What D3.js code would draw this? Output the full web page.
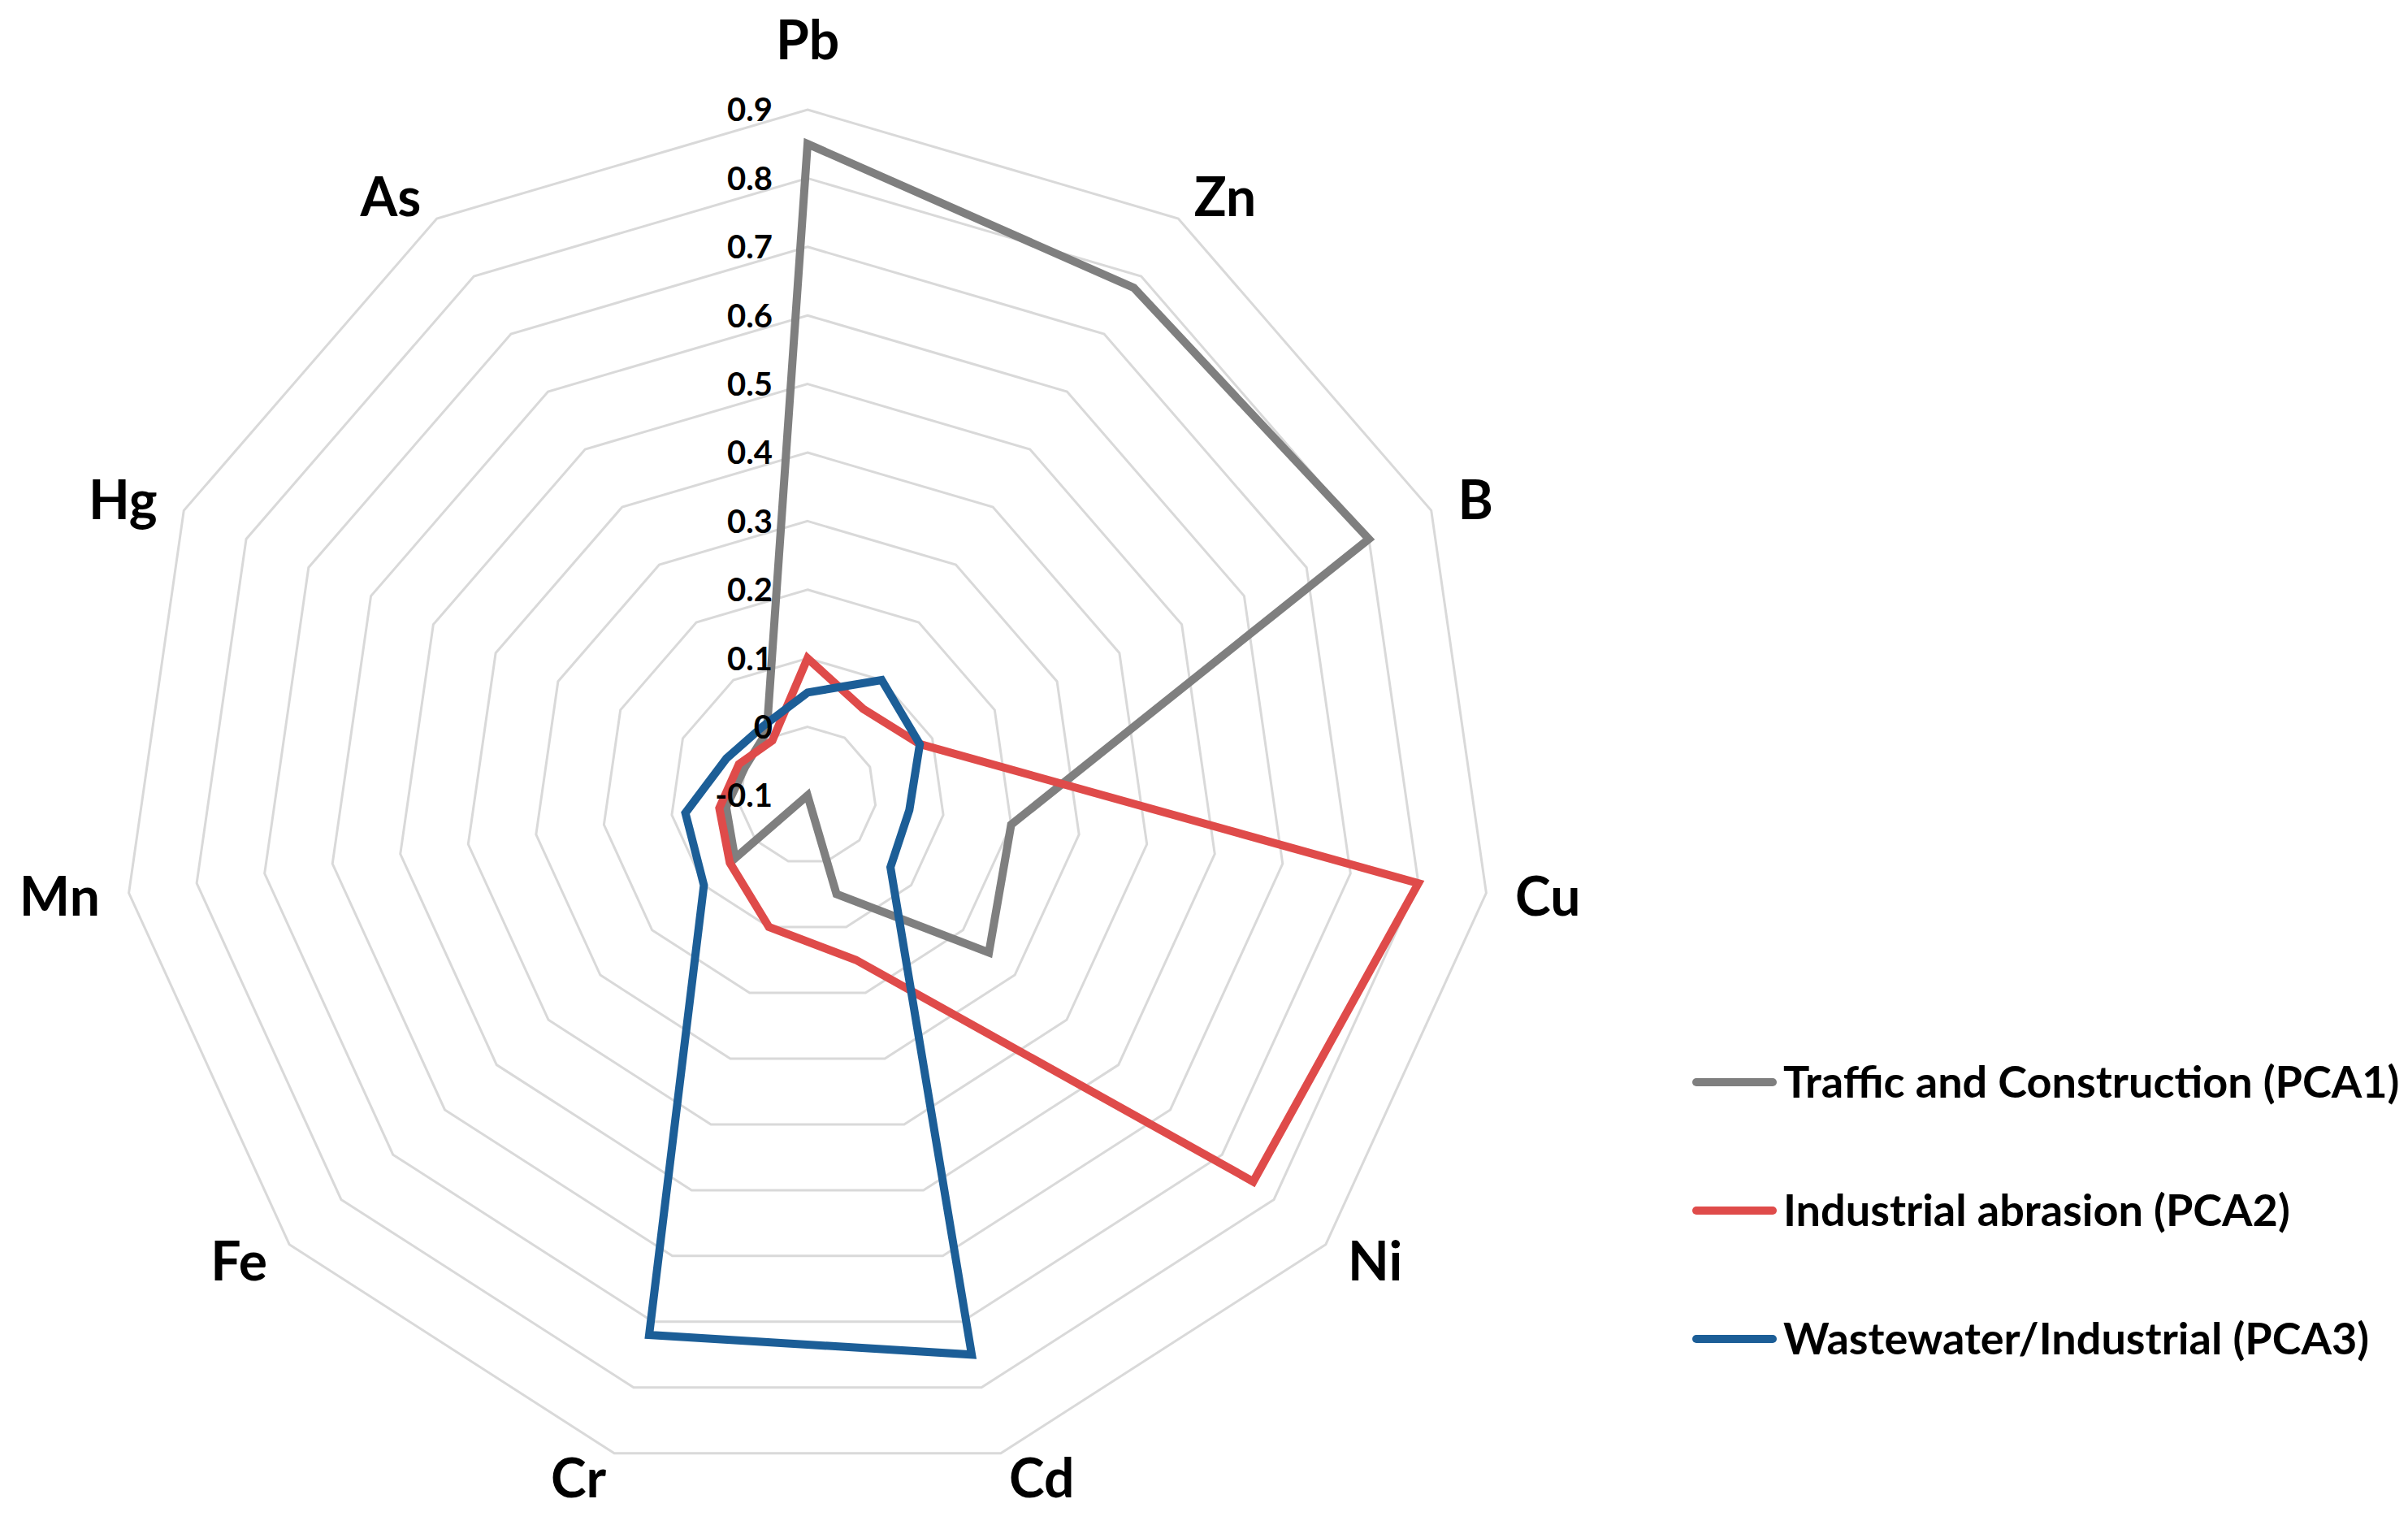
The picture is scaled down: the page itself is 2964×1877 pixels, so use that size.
<!DOCTYPE html>
<html>
<head>
<meta charset="utf-8">
<script src="https://cdn.jsdelivr.net/npm/d3@7"></script>
<style>
  body { margin: 0; background: #fff; }
  text { font-family: Lato, "Open Sans", sans-serif; font-weight: bold; fill: #000; }
</style>
</head>
<body>
<div id="chart"></div>
<script>
// elements, clockwise from the top
var elements = ['Pb', 'Zn', 'B', 'Cu', 'Ni', 'Cd', 'Cr', 'Fe', 'Mn', 'Hg', 'As'];

// factor loadings
var pca1 = [0.85, 0.78, 0.80, 0.20, 0.25, 0.05, -0.10, 0.04, 0.02, 0.00, 0.01];
var pca2 = [0.10, 0.05, 0.08, 0.80, 0.76, 0.15, 0.10, 0.05, 0.03, 0.01, -0.005];
var pca3 = [0.05, 0.10, 0.08, 0.05, 0.06, 0.75, 0.72, 0.10, 0.08, 0.03, 0.02];

var seriesNames = ['Traffic and Construction (PCA1)', 'Industrial abrasion (PCA2)', 'Wastewater/Industrial (PCA3)'];
var tickValues = [-0.1, 0, 0.1, 0.2, 0.3, 0.4, 0.5, 0.6, 0.7, 0.8, 0.9];

var colors = ['#7f7f7f', '#df4b4a', '#1c5e97'];

var W = 2964, H = 1877;
var cx = 994, cy = 979, R = 844;

var svg = d3.select('#chart').append('svg').attr('width', W).attr('height', H);
svg.append('rect').attr('width', W).attr('height', H).attr('fill', '#fff');

var g = svg.append('g').attr('transform', 'translate(' + cx + ',' + cy + ')');

var r = d3.scaleLinear().domain([-0.1, 0.9]).range([0, R]);
var angle = d3.scalePoint().domain(d3.range(elements.length + 1)).range([0, 2 * Math.PI]);

var radial = d3.lineRadial()
  .angle(function(d, i) { return angle(i); })
  .radius(function(d) { return r(d); })
  .curve(d3.curveLinearClosed);

// grid rings (the centre value has no ring)
g.selectAll('path.ring')
  .data(tickValues.slice(1)).enter().append('path')
  .attr('class', 'ring')
  .attr('d', function(v) { return radial(elements.map(function() { return v; })); })
  .attr('fill', 'none')
  .attr('stroke', '#d9d9d9')
  .attr('stroke-width', 3);

// series
g.selectAll('path.series')
  .data([pca1, pca2, pca3]).enter().append('path')
  .attr('class', 'series')
  .attr('d', radial)
  .attr('fill', 'none')
  .attr('stroke', function(d, i) { return colors[i]; })
  .attr('stroke-width', 10)
  .attr('stroke-linejoin', 'miter');

// tick labels along the Pb axis
g.selectAll('text.tick')
  .data(tickValues).enter().append('text')
  .attr('class', 'tick')
  .attr('x', -43)
  .attr('y', function(d) { return -r(d); })
  .attr('dy', '0.36em')
  .attr('text-anchor', 'end')
  .style('font-size', '40px')
  .text(function(d) { return +d.toFixed(1); });

// element labels: near edge a little way out from the outer ring's vertex
var cats = g.selectAll('text.cat')
  .data(elements).enter().append('text')
  .attr('class', 'cat')
  .attr('dy', '0.36em')
  .attr('text-anchor', 'middle')
  .style('font-size', '66px')
  .text(function(d) { return d; });

cats.each(function(d, i) {
  var a = angle(i), s = Math.sin(a), c = Math.cos(a);
  var vx = s * R, vy = -c * R;
  var half = this.getComputedTextLength() / 2;
  var x, y;
  if (Math.abs(s) < 0.01) { x = vx; y = vy - 86; }
  else { x = vx + s * 36 + Math.sign(s) * half; y = vy - c * 32; }
  d3.select(this).attr('x', x).attr('y', y);
});

// legend
var legend = svg.append('g').attr('transform', 'translate(2083,1332)');
var item = legend.selectAll('g')
  .data(seriesNames).enter().append('g')
  .attr('transform', function(d, i) { return 'translate(0,' + i * 158 + ')'; });

item.append('line')
  .attr('x1', 5).attr('x2', 99)
  .attr('stroke', function(d, i) { return colors[i]; })
  .attr('stroke-width', 10)
  .attr('stroke-linecap', 'round');

item.append('text')
  .attr('x', 112)
  .attr('dy', '0.36em')
  .style('font-size', '54px')
  .text(function(d) { return d; });
</script>
</body>
</html>
